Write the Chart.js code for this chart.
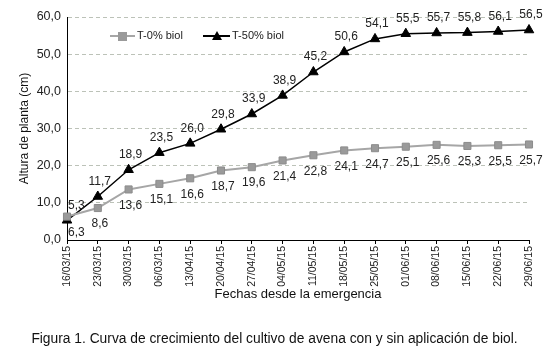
<!DOCTYPE html>
<html lang="es">
<head>
<meta charset="UTF-8">
<title>Curva de crecimiento</title>
<style>
    body { margin: 0; background: #fff; }
    #wrap { width: 552px; height: 354px; position: relative; }
    #caption {
        position: absolute; left: 0; top: 331px; width: 549px;
        text-align: center; line-height: 17px; white-space: nowrap;
        font: 13.8px 'Liberation Sans', Arial, sans-serif; color: #111;
    }
</style>
</head>
<body>
<div id="wrap">
    <canvas id="chart" width="552" height="354"></canvas>
    <div id="caption">Figura 1. Curva de crecimiento del cultivo de avena con y sin aplicación de biol.</div>
</div>
<script src="https://cdn.jsdelivr.net/npm/chart.js"></script>
<script>
// data
const fechas = ['16/03/15', '23/03/15', '30/03/15', '06/03/15', '13/04/15', '20/04/15', '27/04/15', '04/05/15',
    '11/05/15', '18/05/15', '25/05/15', '01/06/15', '08/06/15', '15/06/15', '22/06/15', '29/06/15'];
const sinBiol = [6.3, 8.6, 13.6, 15.1, 16.6, 18.7, 19.6, 21.4, 22.8, 24.1, 24.7, 25.1, 25.6, 25.3, 25.5, 25.7];
const conBiol = [5.3, 11.7, 18.9, 23.5, 26.0, 29.8, 33.9, 38.9, 45.2, 50.6, 54.1, 55.5, 55.7, 55.8, 56.1, 56.5];

const FONT = "'Liberation Sans', Arial, sans-serif";
const fmt = v => v.toFixed(1).replace('.', ',');

// value labels: black series above, gray series below
// (kept inside the plot area so the first ones don't sit on the axis)
const valueLabels = {
    id: 'valueLabels',
    afterDatasetsDraw(chart) {
        const ctx = chart.ctx;
        const left = chart.chartArea.left;
        ctx.save();
        ctx.font = '12px ' + FONT;
        ctx.fillStyle = '#222';
        ctx.textAlign = 'center';
        ctx.textBaseline = 'middle';
        chart.data.datasets.forEach((ds, i) => {
            const dy = i === 0 ? 16 : -15;
            chart.getDatasetMeta(i).data.forEach((pt, j) => {
                const txt = fmt(ds.data[j]);
                const w = ctx.measureText(txt).width;
                const x = Math.max(pt.x + 2, left + w / 2 + 1);
                ctx.fillText(txt, x, pt.y + dy);
            });
        });
        ctx.restore();
    }
};

// small legend inside the plot, top left
const innerLegend = {
    id: 'innerLegend',
    afterDraw(chart) {
        const ctx = chart.ctx;
        const y = 36;
        ctx.save();
        ctx.font = '11px ' + FONT;
        ctx.textBaseline = 'middle';
        // T-0%
        ctx.strokeStyle = '#a6a6a6';
        ctx.lineWidth = 2;
        ctx.beginPath(); ctx.moveTo(110, y); ctx.lineTo(135, y); ctx.stroke();
        ctx.fillStyle = '#9a9a9a';
        ctx.fillRect(118, y - 4, 9, 9);
        ctx.fillStyle = '#222';
        ctx.fillText('T-0% biol', 137, y);
        // T-50%
        ctx.strokeStyle = '#000';
        ctx.lineWidth = 2;
        ctx.beginPath(); ctx.moveTo(203, y); ctx.lineTo(230, y); ctx.stroke();
        ctx.fillStyle = '#000';
        ctx.beginPath(); ctx.moveTo(217, y - 5); ctx.lineTo(222, y + 4); ctx.lineTo(212, y + 4); ctx.closePath(); ctx.fill();
        ctx.fillStyle = '#222';
        ctx.fillText('T-50% biol', 232, y);
        ctx.restore();
    }
};

new Chart(document.getElementById('chart'), {
    type: 'line',
    data: {
        labels: fechas,
        datasets: [{
            label: 'T-0% biol',
            data: sinBiol,
            borderColor: '#a6a6a6',
            borderWidth: 2,
            pointStyle: 'rect',
            pointRadius: 5,
            pointBackgroundColor: '#9a9a9a',
            pointBorderColor: '#8c8c8c',
            pointBorderWidth: 1
        }, {
            label: 'T-50% biol',
            data: conBiol,
            borderColor: '#000',
            borderWidth: 1.5,
            pointStyle: 'triangle',
            pointRadius: 5.5,
            pointBackgroundColor: '#000',
            pointBorderColor: '#000',
            pointBorderWidth: 1
        }]
    },
    options: {
        responsive: false,
        animation: false,
        layout: { padding: { top: 17, right: 23, left: 0, bottom: 52 } },
        plugins: {
            legend: { display: false },
            tooltip: { enabled: false }
        },
        scales: {
            x: {
                offset: false,
                afterFit: s => { s.height = 62; },
                border: { color: '#000', width: 1 },
                grid: { drawOnChartArea: false, drawTicks: true, tickLength: 4, color: '#000' },
                ticks: {
                    minRotation: 90, maxRotation: 90, autoSkip: false, padding: 2,
                    color: '#222', font: { family: FONT, size: 10.5 }
                },
                title: {
                    display: true, text: 'Fechas desde la emergencia', color: '#111',
                    font: { family: FONT, size: 13 }, padding: { top: 0, bottom: 0 }
                }
            },
            y: {
                min: 0, max: 60,
                afterFit: s => { s.width = 67; },
                border: { color: '#000', width: 1, dash: [4, 3] },
                grid: { color: '#bcc2b8', lineWidth: 1, drawTicks: false },
                ticks: {
                    stepSize: 10, padding: 6, color: '#222',
                    font: { family: FONT, size: 12.5 },
                    callback: v => fmt(v)
                },
                title: {
                    display: true, text: 'Altura de planta (cm)', color: '#111',
                    font: { family: FONT, size: 12 }, padding: { top: 17, bottom: 0 }
                }
            }
        }
    },
    plugins: [valueLabels, innerLegend]
});
</script>
</body>
</html>
